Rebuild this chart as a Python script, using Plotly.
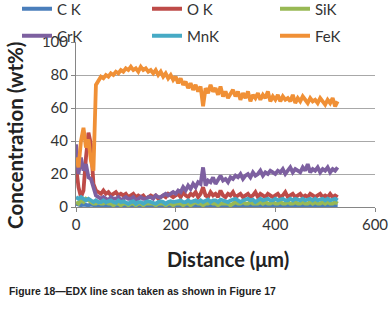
import plotly.graph_objects as go

# Distance along the line scan (µm)
DIST = list(range(0, 530, 5))

FE_K = [30, 24, 40, 48, 36, 41, 28, 22, 74, 77,
        79, 78, 80, 79, 81, 80, 82, 81, 83, 82,
        84, 83, 85, 83, 84, 82, 85, 83, 84, 82,
        83, 81, 83, 80, 82, 79, 81, 78, 80, 77,
        79, 75, 78, 74, 76, 72, 75, 71, 74, 70,
        73, 61, 72, 69, 74, 70, 72, 68, 73, 67,
        70, 66, 69, 71, 67, 70, 65, 69, 66, 70,
        64, 68, 66, 69, 65, 68, 66, 70, 64, 67,
        65, 68, 64, 67, 65, 66, 64, 68, 63, 66,
        64, 67, 65, 63, 66, 64, 65, 63, 66, 64,
        62, 65, 63, 66, 61, 64]

CR_K = [38, 20, 30, 22, 26, 18, 17, 12, 7, 6,
        5, 6, 5, 4, 6, 5, 5, 6, 4, 5,
        6, 5, 5, 6, 4, 5, 6, 5, 5, 6,
        6, 5, 7, 6, 6, 7, 8, 7, 8, 9,
        8, 10, 9, 12, 10, 13, 11, 14, 12, 15,
        14, 24, 13, 16, 15, 18, 14, 17, 19, 16,
        17, 15, 18, 17, 19, 18, 20, 17, 19, 20,
        18, 21, 19, 20, 22, 19, 21, 20, 22, 21,
        20, 22, 21, 23, 20, 22, 24, 21, 23, 22,
        21, 24, 22, 26, 21, 23, 22, 24, 21, 23,
        22, 24, 21, 23, 22, 24]

O_K = [25, 12, 6, 10, 30, 45, 38, 14, 10, 9,
       8, 10, 8, 9, 7, 8, 9, 7, 8, 7,
       8, 6, 7, 8, 6, 7, 6, 7, 5, 6,
       7, 6, 7, 5, 6, 7, 6, 8, 7, 6,
       7, 8, 6, 9, 7, 6, 8, 7, 9, 6,
       8, 12, 7, 6, 9, 7, 8, 6, 10, 7,
       6, 8, 7, 9, 6, 7, 8, 6, 7, 8,
       6, 7, 9, 6, 8, 7, 6, 8, 7, 6,
       7, 8, 6, 7, 9, 6, 7, 8, 6, 7,
       8, 6, 7, 6, 8, 7, 6, 7, 8, 6,
       7, 6, 8, 6, 7, 6]

MN_K = [6, 5, 6, 5, 4, 5, 4, 3, 4, 3,
        3, 4, 3, 3.5, 4, 3, 2.5, 4, 3, 3.5,
        3, 2, 3, 3.5, 2, 3, 3, 2, 3, 3.5,
        3, 2.5, 2, 3, 3.5, 3, 2, 3, 3.5, 3,
        3, 3.5, 4, 3, 3, 4, 3, 3.5, 4, 3,
        4, 3, 4, 4.5, 3, 4, 4, 3, 4.5, 4,
        4, 3, 4, 4.5, 5, 4, 3, 4, 4.5, 5,
        4, 4.5, 3, 4, 5, 4, 4.5, 5, 4, 4,
        5, 4, 4.5, 5, 4, 4, 5, 4, 5, 4.5,
        4, 5, 4, 4.5, 5, 4, 5, 4, 4.5, 5,
        4, 5, 4, 4.5, 5, 4]

SI_K = [3, 2, 4, 3, 5, 4, 3, 2, 2, 3,
        2, 2, 3, 2, 2, 1, 2, 2, 1, 2,
        2, 1, 2, 2, 1, 2, 2, 1, 2, 2,
        2, 2, 1, 2, 2, 2, 1, 2, 2, 1,
        2, 2, 2, 1, 2, 2, 1, 2, 3, 2,
        2, 1, 2, 2, 3, 2, 2, 1, 2, 2,
        2, 2, 1, 2, 3, 2, 2, 3, 2, 2,
        3, 2, 2, 2, 3, 2, 3, 2, 2, 3,
        2, 2, 3, 2, 2, 3, 2, 2, 3, 2,
        2, 3, 2, 2, 3, 2, 3, 2, 2, 3,
        2, 3, 2, 2, 3, 2]

C_K = [2, 1.5, 1, 1.5, 1, 1, 1.5, 1, 1, 0.5,
       1, 0.5, 1, 1, 0.5, 1, 1, 0.5, 1, 1,
       0.5, 1, 1, 0.5, 1, 1, 0.5, 1, 1, 0.5,
       1, 1, 0.5, 1, 0.5, 1, 1, 0.5, 1, 1,
       0.5, 1, 1, 0.5, 1, 1, 0.5, 1, 1, 0.5,
       1, 1, 0.5, 1, 1, 0.5, 1, 1, 0.5, 1,
       1, 0.5, 1, 1, 0.5, 1, 1, 0.5, 1, 1,
       0.5, 1, 1, 0.5, 1, 1, 0.5, 1, 1, 0.5,
       1, 1, 0.5, 1, 1, 0.5, 1, 1, 0.5, 1,
       1, 0.5, 1, 1, 0.5, 1, 1, 0.5, 1, 1,
       0.5, 1, 1, 0.5, 1, 1]

NAMES = ["C K", "O K", "SiK", "CrK", "MnK", "FeK"]
VALUES = [C_K, O_K, SI_K, CR_K, MN_K, FE_K]
COLORS = ["#4A7EBB", "#BE4B48", "#98B954", "#7D60A0", "#46AAC5", "#F09036"]

W, H = 391, 310
L, R, T, B = 76, 16, 41.5, 102.5
PW, PH = W - L - R, H - T - B

# legend slot positions (pixel) for the 3x2 legend grid
LEG_X = [22, 152, 280]
LEG_Y = [9, 36]


def px_to_paper_x(px):
    return (px - L) / PW


def px_to_paper_y(py):
    return (H - B - py) / PH


fig = go.Figure()
legend_layout = {}
legfont = dict(family="Lato", size=15, color="#333333")
for i, (name, vals, color) in enumerate(zip(NAMES, VALUES, COLORS)):
    key = "legend" if i == 0 else f"legend{i + 1}"
    fig.add_trace(go.Scatter(x=DIST, y=vals, name=name, mode="lines",
                             line=dict(color=color, width=3.8), legend=key))
    col, row = i % 3, i // 3
    legend_layout[key] = dict(xref="container", yref="container",
                              x=(LEG_X[col] - 5) / W, y=1 - LEG_Y[row] / H,
                              xanchor="left", yanchor="middle", borderwidth=0,
                              bgcolor="rgba(0,0,0,0)", font=legfont)

# empty trace to activate the gridline overlay axis
fig.add_trace(go.Scatter(x=[], y=[], yaxis="y2", showlegend=False, hoverinfo="skip"))

tickfont = dict(family="Lato", size=15, color="#333333")
axcol = "#868686"

fig.update_layout(
    width=W, height=H,
    margin=dict(l=L, r=R, t=T, b=B, autoexpand=False),
    paper_bgcolor="white", plot_bgcolor="white",
    xaxis=dict(range=[0, 600], tickvals=[0, 200, 400, 600], showgrid=False,
               zeroline=False, showline=True, linecolor=axcol, linewidth=1,
               ticks="outside", ticklen=4, tickcolor=axcol, tickfont=tickfont),
    yaxis=dict(range=[0, 100], tickvals=[0, 20, 40, 60, 80, 100], showgrid=False,
               zeroline=False, showline=True, linecolor=axcol, linewidth=1,
               ticks="outside", ticklen=4, tickcolor=axcol, tickfont=tickfont),
    yaxis2=dict(range=[0, 100], overlaying="y", tickvals=[20, 40, 60, 80],
                showgrid=True, gridcolor="#A8A8A8", gridwidth=1,
                showticklabels=False, ticks="", showline=False, zeroline=False),
    showlegend=True,
    **legend_layout,
)

fig.add_annotation(text="<b>Concentration (wt%)</b>", xref="paper", yref="paper",
                   x=px_to_paper_x(15), y=px_to_paper_y(136), xanchor="center", yanchor="middle",
                   textangle=-90, showarrow=False,
                   font=dict(family="Lato", size=20.5, color="#222222"))
fig.add_annotation(text="<b>Distance (\u03bcm)</b>", xref="paper", yref="paper",
                   x=px_to_paper_x(228), y=px_to_paper_y(260), xanchor="center", yanchor="middle",
                   showarrow=False, font=dict(family="Lato", size=20, color="#222222"))
fig.add_annotation(text="<b>Figure 18\u2014EDX line scan taken as shown in Figure 17</b>",
                   xref="paper", yref="paper", x=px_to_paper_x(7), y=px_to_paper_y(293),
                   xanchor="left", yanchor="middle", showarrow=False,
                   font=dict(family="Liberation Sans", size=10.4, color="#222222"))

fig.write_html("out.html", config={"displayModeBar": False},
               post_script="document.body.style.margin='0';document.body.style.overflow='hidden';")
